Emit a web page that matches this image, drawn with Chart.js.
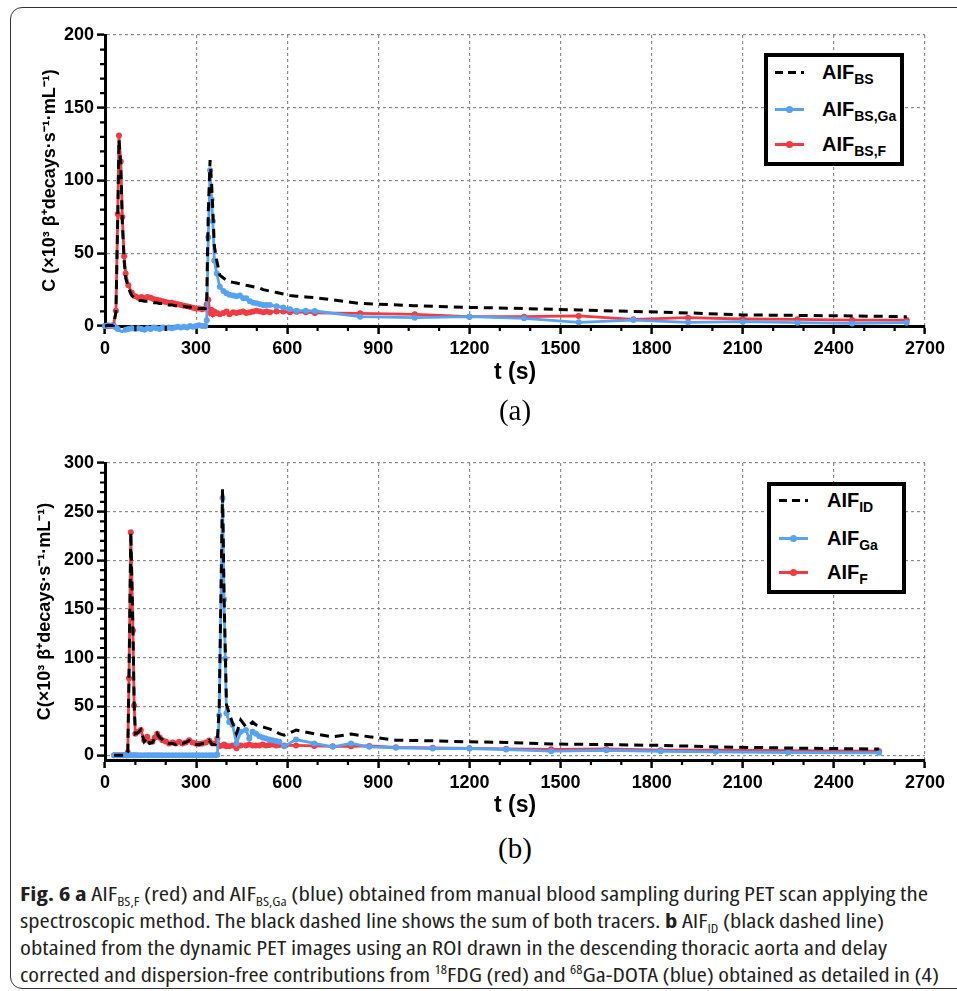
<!DOCTYPE html>
<html>
<head>
<meta charset="utf-8">
<script src="https://cdn.jsdelivr.net/npm/chart.js@4.4.1/dist/chart.umd.min.js"></script>
<style>
  body { margin: 0; background: #fff; width: 957px; height: 991px; overflow: hidden; position: relative; font-family: "Liberation Sans", Arial, sans-serif; }
  .frame { position: absolute; left: 10px; top: 7px; width: 990px; height: 982px; border: 1.5px solid #333; border-radius: 12px; box-sizing: border-box; }
  canvas { position: absolute; left: 0; }
  .tag { position: absolute; left: 465px; width: 100px; text-align: center; font-family: "Liberation Serif", "Times New Roman", serif; font-size: 29px; line-height: 30px; }
  .legend { position: absolute; border: 4px solid #000; background: #fff; box-sizing: border-box; }
  .legend .row { position: absolute; left: 0; height: 30px; width: 100%; }
  .legend .sample { position: absolute; top: 14px; width: 29px; height: 3px; }
  .legend .dot { position: absolute; left: 11px; top: -2px; width: 7px; height: 7px; border-radius: 50%; }
  .legend .name { position: absolute; top: 3px; font-weight: bold; font-size: 20px; line-height: 24px; white-space: nowrap; }
  .legend .name sub { font-size: 14px; vertical-align: -5px; }
  .cap { position: absolute; left: 20px; top: 880px; font-family: "Open Sans", sans-serif; font-stretch: 75%; font-size: 20px; line-height: 27px; color: #231f20; }
  .cap span.line { display: inline-block; white-space: nowrap; transform-origin: 0 50%; }
  .cap sub, .cap sup { font-size: 12px; line-height: 0; }
</style>
</head>
<body>
<div class="frame"></div>

<canvas id="chartA" width="957" height="395" style="top:0"></canvas>
<div class="tag" style="top:395px">(a)</div>
<canvas id="chartB" width="957" height="410" style="top:420px"></canvas>
<div class="tag" style="top:833px">(b)</div>

<div id="legA" class="legend" style="left:764px;top:53px;width:140px;height:113px"></div>
<div id="legB" class="legend" style="left:767px;top:482px;width:139px;height:112px"></div>

<div class="cap">
  <span class="line"><b>Fig. 6 a</b> AIF<sub>BS,F</sub> (red) and AIF<sub>BS,Ga</sub> (blue) obtained from manual blood sampling during PET scan applying the</span><br>
  <span class="line">spectroscopic method. The black dashed line shows the sum of both tracers. <b>b</b> AIF<sub>ID</sub> (black dashed line)</span><br>
  <span class="line">obtained from the dynamic PET images using an ROI drawn in the descending thoracic aorta and delay</span><br>
  <span class="line">corrected and dispersion-free contributions from <sup>18</sup>FDG (red) and <sup>68</sup>Ga-DOTA (blue) obtained as detailed in (4)</span>
</div>

<script>
// ---- panel (a): manual blood sampling ----
const tA = [0, 10, 20, 28, 36, 42, 46, 52, 57, 63, 68, 77, 88,
  100, 110, 120, 130, 140, 150, 160, 170, 180, 190, 200, 210, 220, 230, 240, 250, 260, 270, 280, 290, 300, 310, 320, 330,
  335, 340, 346, 351, 355, 360, 368, 378, 390, 400, 410, 422, 433, 444, 455, 465, 477, 488, 499, 510, 521, 532, 543,
  565, 587, 609, 631, 661, 691, 840, 1020, 1200, 1380, 1560, 1740, 1920, 2100, 2280, 2460, 2640];
const aifBS_F = [0, 0, 0, 0.5, 10.5, 77, 131, 113, 75, 48, 36, 28, 23,
  20.5, 19.5, 20, 19, 20, 19.5, 18.5, 18, 17.5, 17, 16.5, 16, 16, 15.5, 15, 14.5, 14, 13.5, 13, 12.5, 12, 12, 11.5, 12,
  15, 18, 9, 11, 8, 10, 9, 8, 9, 10, 8, 9.5, 9, 9.5, 10, 9, 9.5, 10, 10.5, 10, 9.5, 10, 9.5,
  10, 10, 9.5, 9.8, 9.5, 9, 8.7, 8, 6.4, 6.4, 6.9, 4.6, 5.7, 4.8, 4.6, 4.1, 4.1];
const aifBS_Ga = [0, 0.5, 0.3, 0, -1, -2, -3, -3.5, -3.9, -3, -2.5, -2, -1.5,
  -2, -1.5, -2, -2.5, -1.5, -2, -1, -1.5, -2, -1, -1.5, -1, -1.5, -1, -0.5, -1, -0.5, -1, 0, -0.5, 0, 0.5, 0, 0,
  4, 61, 107, 87, 72, 45, 36, 27, 24, 22.5, 21.5, 21, 20.5, 21, 19, 19, 17, 16, 15.6, 15, 14.5, 14.5, 14.4,
  13.5, 12.8, 11.5, 10.5, 10.5, 10.3, 6.4, 5.7, 6.4, 5.3, 2.5, 4.1, 2.5, 3, 2.3, 1.8, 2.3];
const aifBS = [0, 0.5, 0.3, 0.5, 9.5, 75, 128, 110, 71, 45, 33, 26, 21,
  18.5, 17.5, 17.5, 17, 17, 16.5, 16, 16, 15.5, 15.5, 15, 14.5, 14.5, 14, 14, 13.5, 13.5, 13, 13, 12.5, 12.5, 12, 12, 12,
  19, 78, 114, 98, 80, 55, 45, 35, 33, 31.6, 30.5, 30, 29.5, 29, 28.5, 28, 27.5, 27, 26.5, 26, 25, 24.5, 24,
  23, 22, 21, 20.5, 20, 19.5, 15.5, 14, 12.8, 12, 11, 10, 9, 7.6, 7.3, 6.9, 6.4];

// ---- panel (b): image derived ----
const tB = [30, 40, 50, 60, 70, 75, 79, 85, 92, 96, 100, 108, 118, 129, 139, 147, 156, 164, 172, 180, 189,
  200, 211, 222, 233, 244, 255, 266, 277, 288, 299, 310, 321, 332, 343, 353, 363, 370,
  376, 387, 392, 396, 400, 409, 420, 433, 447, 464, 475, 486, 497, 508, 519, 530, 541, 552, 563, 574, 590,
  629, 689, 750, 810, 870, 958, 1079, 1200, 1321, 1469, 1651, 1830, 2011, 2250, 2549];
const aif_F = [0, 0, 0, 0, 0, 3, 79, 229, 128, 51, 22, 24, 25.7, 15.4, 18.8, 14, 13.7, 18, 22, 18, 15.4,
  14, 12, 13, 12, 13.7, 12, 13, 15.4, 13, 12, 11.5, 12, 13, 15, 12, 12, 17,
  9, 10, 11, 10, 9, 9, 10, 7, 10, 10, 11, 10, 10, 10, 11, 10, 10.5, 11, 10, 10.5, 10,
  10, 9.5, 9, 9, 9.5, 8, 7.5, 7, 6.5, 6, 6.3, 5, 5, 4.5, 4];
const aif_Ga = [0, 0, 0, 0, 0, 0, 0, 0, 0, 0, 0, 0, 0, 0, 0, 0, 0, 0, 0, 0, 0,
  0, 0, 0, 0, 0, 0, 0, 0, 0, 0, 0, 0, 0, 0, 0, 0, 0.5,
  41, 264, 160, 99, 43, 34, 31, 12, 24, 25.7, 17, 24, 22, 19.5, 18, 17, 16, 15.4, 14.5, 13.7, 9,
  16, 12, 8.6, 12, 8.5, 7.6, 6.8, 6.8, 5.8, 4.1, 5, 4, 3.4, 2.7, 2.4];
const aif_ID = [0, 0, 0, 0, 0, 3, 80, 229, 130, 52, 22, 23, 26, 14, 18, 12, 13, 17, 22, 18, 16,
  13, 12, 12, 11, 13, 12, 13, 15, 12, 11, 11, 12, 12, 15, 11, 11, 16,
  48, 274, 165, 108, 52, 43, 33, 22, 36, 29, 31, 34, 31, 30, 29, 28, 27, 25.7, 24, 22, 20.5,
  25.7, 22, 18.8, 21.6, 18.8, 15.4, 14.7, 13.7, 13, 11.5, 10.8, 10, 8.5, 7.3, 6.2];

// tick labels
const xTicks = [0, 300, 600, 900, 1200, 1500, 1800, 2100, 2400, 2700];
const yTicksA = [0, 50, 100, 150, 200];
const yTicksB = [0, 50, 100, 150, 200, 250, 300];

const RED = '#f23a40';
const BLUE = '#55a3f2';

// small ticks between the labelled ones
const minorTicks = {
  id: 'minorTicks',
  afterDraw(chart) {
    const { ctx, scales: { x, y } } = chart;
    ctx.save();
    ctx.strokeStyle = '#000';
    ctx.lineWidth = 2.2;
    ctx.beginPath();
    for (let v = 100; v < 2700; v += 100) {
      if (v % 300 === 0) continue;
      const px = x.getPixelForValue(v);
      ctx.moveTo(px, x.top);
      ctx.lineTo(px, x.top + 5);
    }
    for (let v = 10; v < y.max; v += 10) {
      if (v % 50 === 0) continue;
      const py = y.getPixelForValue(v);
      ctx.moveTo(y.right, py);
      ctx.lineTo(y.right - 5, py);
    }
    ctx.stroke();
    ctx.restore();
  }
};

function series(t, values, color, dashed) {
  return {
    data: t.map((v, i) => ({ x: v, y: values[i] })),
    borderColor: color,
    backgroundColor: color,
    borderWidth: dashed ? 3 : 2.8,
    borderDash: dashed ? [9, 6] : [],
    pointRadius: dashed ? 0 : 3,
    pointBorderWidth: 0,
    tension: 0,
    clip: false
  };
}

function makeChart(id, t, sets, o) {
  const tickFont = { family: '"Liberation Sans", Arial, sans-serif', size: 18, weight: 'bold' };
  return new Chart(document.getElementById(id), {
    type: 'line',
    data: { datasets: sets },
    options: {
      responsive: false,
      animation: false,
      layout: { padding: { top: o.top, right: 32, left: 0, bottom: 0 } },
      plugins: { legend: { display: false }, tooltip: { enabled: false } },
      scales: {
        x: {
          type: 'linear', min: 0, max: 2700,
          afterBuildTicks: s => { s.ticks = xTicks.map(v => ({ value: v })); },
          afterFit: s => { s.height = o.xHeight; },
          ticks: { font: tickFont, color: '#000', padding: 4, maxRotation: 0, autoSkip: false, callback: v => String(v) },
          grid: { color: '#8c8c8c', lineWidth: 1.2, tickLength: 8, tickColor: '#000', tickWidth: 2.5, tickBorderDash: [] },
          border: { color: '#000', width: 3, dash: [3, 3] },
          title: { display: true, text: 't (s)', color: '#000', font: { family: '"Liberation Sans", Arial, sans-serif', size: 23, weight: 'bold' }, padding: { top: 0, bottom: o.xTitlePad } }
        },
        y: {
          type: 'linear', min: o.yMin, max: o.yMax,
          afterBuildTicks: s => { s.ticks = o.yTicks.map(v => ({ value: v })); },
          afterFit: s => { s.width = 105; },
          ticks: { font: tickFont, color: '#000', padding: 3, callback: v => String(v) },
          grid: { color: '#8c8c8c', lineWidth: 1.2, tickLength: 8, tickColor: '#000', tickWidth: 2.5, tickBorderDash: [] },
          border: { color: '#000', width: 3, dash: [3, 3] },
          title: { display: true, text: o.yTitle, color: '#000', font: { family: '"Liberation Sans", Arial, sans-serif', size: 18, weight: 'bold' }, padding: { top: o.yTitlePad, bottom: 0 } }
        }
      }
    },
    plugins: [minorTicks]
  });
}

// black drawn last (dataset 0 is painted on top)
makeChart('chartA', tA, [
  series(tA, aifBS, '#000', true),
  series(tA, aifBS_Ga, BLUE, false),
  series(tA, aifBS_F, RED, false)
], { top: 35, xHeight: 69, xTitlePad: 8.8, yMin: 0, yMax: 200, yTicks: yTicksA,
     yTitle: 'C (×10³ β⁺decays·s⁻¹·mL⁻¹)', yTitlePad: 39 });

makeChart('chartB', tB, [
  series(tB, aif_ID, '#000', true),
  series(tB, aif_Ga, BLUE, false),
  series(tB, aif_F, RED, false)
], { top: 43, xHeight: 70, xTitlePad: 10.8, yMin: -5, yMax: 300, yTicks: yTicksB,
     yTitle: 'C(×10³ β⁺decays·s⁻¹·mL⁻¹)', yTitlePad: 34 });

// legends with subscripts
function legend(id, entries, rows, sampleX, textX) {
  const box = document.getElementById(id);
  entries.forEach((e, i) => {
    const row = document.createElement('div');
    row.className = 'row';
    row.style.top = (rows[i] - 15) + 'px';
    const bg = e.dashed
      ? 'repeating-linear-gradient(to right, #000 0 8px, transparent 8px 13px)'
      : e.color;
    row.innerHTML = `
      <div class="sample" style="left:${sampleX}px;background:${bg}">
        ${e.dashed ? '' : `<div class="dot" style="background:${e.color}"></div>`}
      </div>
      <div class="name" style="left:${textX}px">AIF<sub>${e.sub}</sub></div>`;
    box.appendChild(row);
  });
}
legend('legA', [
  { sub: 'BS', dashed: true },
  { sub: 'BS,Ga', color: BLUE },
  { sub: 'BS,F', color: RED }
], [15, 52, 87], 7, 54);
legend('legB', [
  { sub: 'ID', dashed: true },
  { sub: 'Ga', color: BLUE },
  { sub: 'F', color: RED }
], [14, 52, 86], 8, 56);

// caption lines stretched to the printed widths
const capWidths = [908, 864, 867, 919];
document.querySelectorAll('.cap .line').forEach((el, i) => {
  const w = el.getBoundingClientRect().width;
  el.style.transform = `scaleX(${capWidths[i] / w})`;
});
</script>
</body>
</html>
